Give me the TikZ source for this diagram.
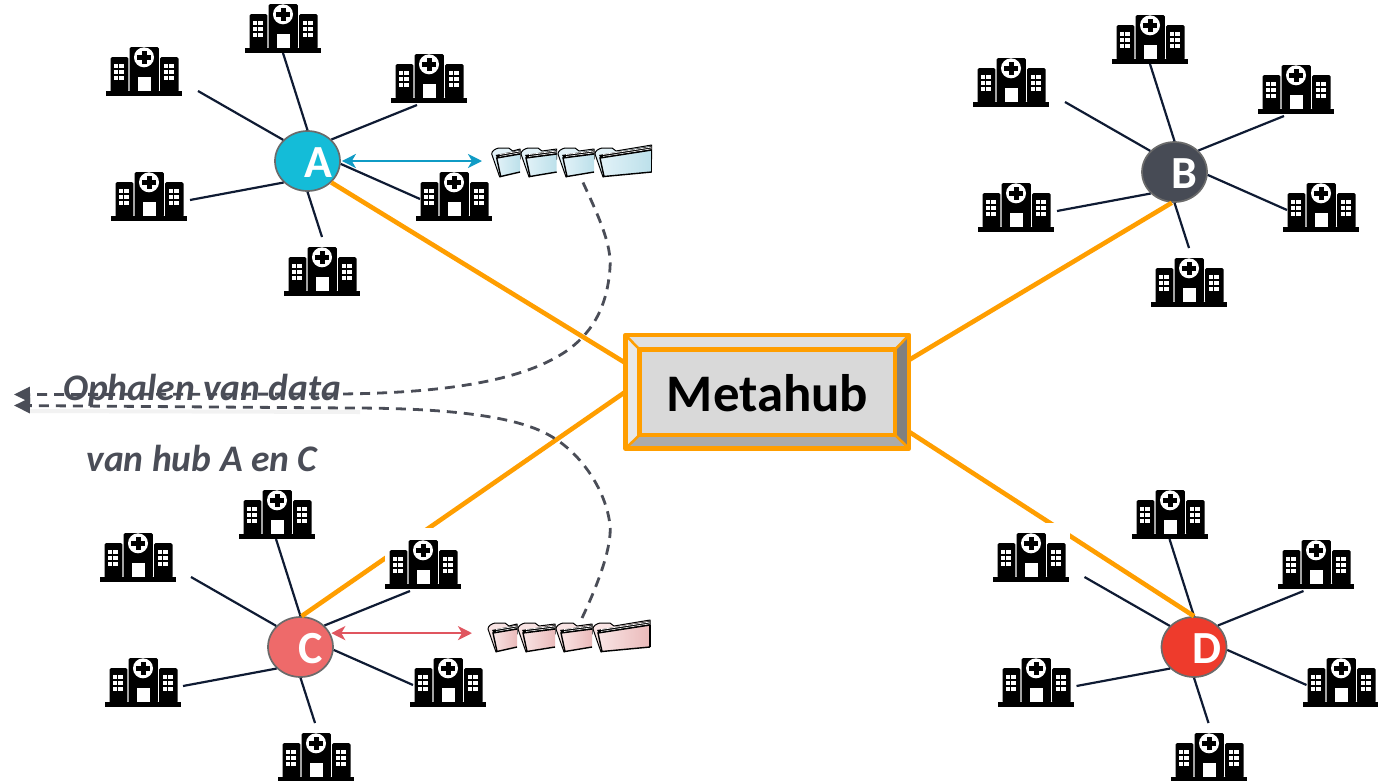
\documentclass[tikz,border=0pt]{standalone}
\usepackage{fontspec}
\setmainfont{Carlito}
\usetikzlibrary{arrows.meta,calc,shapes.geometric}
\definecolor{hubA}{HTML}{14BCD8}
\definecolor{hubB}{HTML}{474B55}
\definecolor{hubC}{HTML}{EE6A6A}
\definecolor{hubD}{HTML}{EE3B2C}
\definecolor{spoke}{HTML}{0F1B33}
\definecolor{meta}{HTML}{FF9E00}
\definecolor{slate}{HTML}{4A4D57}
\definecolor{arrA}{HTML}{0F9BC5}
\definecolor{arrC}{HTML}{E0555F}
\definecolor{blueL}{HTML}{E2F2F8}
\definecolor{blueD}{HTML}{BCE0EA}
\definecolor{pinkL}{HTML}{F9E4E4}
\definecolor{pinkD}{HTML}{EABABA}
\tikzset{
  x=1pt,y=-1pt,
  spokeline/.style={draw=spoke,line width=2.2pt},
  hubnode/.style={ellipse,draw=black!58,line width=1.7pt,minimum width=65pt,minimum height=60pt,inner sep=0pt},
  hubletter/.style={text=white,font=\fontsize{46}{50}\selectfont\bfseries,inner sep=0pt},
  metaline/.style={draw=meta,line width=4.6pt},
  linkA/.style={draw=arrA,line width=2.5pt,{Stealth[length=14pt,width=14pt,inset=4pt]}-{Stealth[length=14pt,width=14pt,inset=4pt]}},
  linkC/.style={draw=arrC,line width=2.5pt,{Stealth[length=14pt,width=14pt,inset=4pt]}-{Stealth[length=14pt,width=14pt,inset=4pt]}},
  fetch/.style={draw=slate,line width=2.8pt,dash pattern=on 10pt off 7pt,-{Triangle[length=16pt,width=15pt]}},
  fetchshadow/.style={draw=black!5,line width=4pt},
  caption/.style={text=slate,font=\fontsize{37.5}{42}\selectfont\bfseries\itshape,inner sep=0pt},
  hospital/.pic={
    \fill[black,rounded corners=1.5pt] (-14.5,0) rectangle (14.9,45);
    \fill[black,rounded corners=1.5pt] (-33.5,10) rectangle (-15.6,45);
    \fill[black,rounded corners=1.5pt] (16,10) rectangle (34.5,45);
    \fill[black] (-38,44) rectangle (38,49);
    \fill[white] (0,10.3) circle (10);
    \fill[black] (-2.5,3.6) rectangle (2.5,17);
    \fill[black] (-6.7,7.8) rectangle (6.7,12.8);
    \fill[white] (-6,30) rectangle (6.5,44);
    \foreach \cx in {-30.5,-24.8,19.7,25.4}
      \foreach \cy in {16.5,22.5,28.5}
        \fill[white] (\cx,\cy) rectangle ++(4.6,4.6);
  },
}
\newcommand\hubgroup[6]{%
  \begin{scope}[shift={(#2,#3)}]
    \node[hubnode,fill=#4] (#1) at (307.5,161) {};
    \node[hubletter] (#1l) at (318+#6,162.5) {#5};
    \coordinate (#1ul) at (198,91);
    \coordinate (#1t) at (283,53);
    \coordinate (#1ur) at (417,105);
    \coordinate (#1lf) at (190,200);
    \coordinate (#1r) at (420,199);
    \coordinate (#1b) at (322,237);
    \draw[spokeline] (#1.139) -- (#1ul);
    \draw[spokeline] (#1.90) -- (#1t);
    \draw[spokeline] (#1.42) -- (#1ur);
    \draw[spokeline] (#1.222) -- (#1lf);
    \draw[spokeline] (#1.355) -- (#1r);
    \draw[spokeline] (#1.270) -- (#1b);
  \end{scope}}
\newcommand\hospitals[2]{%
  \begin{scope}[shift={(#1,#2)}]
    \pic at (283,4) {hospital};
    \pic at (144,47) {hospital};
    \pic at (429,54) {hospital};
    \pic at (149,172) {hospital};
    \pic at (454,172) {hospital};
    \pic at (322,247) {hospital};
  \end{scope}}
% x, y, width, light colour, dark colour, tip rise
\newcommand\folder[6]{%
  \begin{scope}[shift={(#1,#2)}]
    \filldraw[fill=#4,draw=black,line width=1pt,line join=round]
      (0,7) .. controls (0,4) and (3,2) .. (7,1) -- (17,1) -- (21,4) -- (#3,#6) -- (#3,12) -- (8,30) -- cycle;
    \fill[black] (4,8) -- (#3,#6+1) -- (#3,#6+5) -- (6,12) -- cycle;
    \draw[white,line width=.7pt] (8,7.5) -- (#3,#6+2);
    \draw[white,line width=.7pt] (8,9.6) -- (#3,#6+3.8);
    \shade[left color=#4,right color=#5] (5,11) -- (#3,#6+5) -- (#3,25) -- (9,29.5) -- cycle;
    \draw[black,line width=1.4pt] (#3,25) -- (9,29.5) -- (5,11) -- (#3,#6+5);
  \end{scope}}
\begin{document}
\begin{tikzpicture}
\useasboundingbox (0,0) rectangle (1378,780);
\hubgroup{a}{0}{0}{hubA}{A}{0}
\hubgroup{b}{867}{11}{hubB}{B}{-0.5}
\hubgroup{c}{-7}{486}{hubC}{C}{-0.5}
\hubgroup{d}{886.5}{486}{hubD}{D}{2}
% metahub frame
\node[rectangle,minimum width=283.5pt,minimum height=113.5pt,inner sep=0pt,outer sep=0pt] (mo) at (767.25,391.75) {};
\node[rectangle,minimum width=255.5pt,minimum height=85.5pt,inner sep=0pt,outer sep=0pt] (mi) at (767.25,392.25) {};
% orange connectors
\draw[metaline] (a.318) -- ([yshift=28.75pt]mo.west);
\draw[metaline] (b.265) -- ([yshift=31.75pt]mo.east);
\draw[metaline] (c.88) -- (mo.west);
\draw[metaline] (d.90) -- ([yshift=-40pt]mo.east);
% bevel
\fill[black!12] (mo.north west) -- (mo.north east) -- (mi.north east) -- (mi.north west) -- cycle;
\fill[black!9] (mo.north west) -- (mi.north west) -- (mi.south west) -- (mo.south west) -- cycle;
\fill[black!50] (mo.north east) -- (mi.north east) -- (mi.south east) -- (mo.south east) -- cycle;
\fill[black!33] (mo.south west) -- (mi.south west) -- (mi.south east) -- (mo.south east) -- cycle;
\draw[draw=meta,line width=2.5pt] (mo.north west) -- (mi.north west);
\draw[draw=meta,line width=2.5pt] (mo.north east) -- (mi.north east);
\draw[draw=meta,line width=2.5pt] (mo.south west) -- (mi.south west);
\draw[draw=meta,line width=2.5pt] (mo.south east) -- (mi.south east);
\draw[metaline,line join=round] (mo.north west) rectangle (mo.south east);
\draw[metaline,fill=black!15] (mi.north west) rectangle (mi.south east);
\node[font=\fontsize{52.8}{56}\selectfont\bfseries,text=black,inner sep=0pt] (mt) at (767.5,393) {Metahub};
% white masks that cut the orange lines
\fill[white] (385,528) rectangle (461,590);
\fill[white] (994,523) rectangle (1070,585);
\hospitals{0}{0}
\hospitals{867}{11}
\hospitals{-6}{486}
\hospitals{887}{486}
% folders
\node[rectangle,minimum width=160pt,minimum height=32pt,inner sep=0pt,outer sep=0pt] (fa) at (572,161.5) {};
\node[rectangle,minimum width=162pt,minimum height=32pt,inner sep=0pt,outer sep=0pt] (fc) at (569,636) {};
\folder{491.7}{147}{28.3}{blueL}{blueD}{2}
\folder{521}{147}{35.7}{blueL}{blueD}{2}
\folder{558}{147}{36}{blueL}{blueD}{2}
\folder{595}{147}{56.7}{blueL}{blueD}{-2}
\draw[line width=1.4pt] (651.7,150) -- (651.7,172);
\folder{488}{622}{29}{pinkL}{pinkD}{2}
\folder{518}{622}{37}{pinkL}{pinkD}{2}
\folder{556}{622}{36}{pinkL}{pinkD}{2}
\folder{593}{622}{57}{pinkL}{pinkD}{-2}
\draw[line width=1.4pt] (650,625) -- (650,647);
% hub to folder arrows
\draw[linkA,shorten <=1pt,shorten >=10pt] (a.east) -- (a.east -| fa.west);
\draw[linkC,shorten <=1pt,shorten >=16pt] (c.25) -- (c.25 -| fc.west);
% dashed fetch lines
\coordinate (outa) at (14,394.5);
\coordinate (outc) at (14,405.5);
\draw[fetchshadow] (30,411) -- (360,412);
\draw[fetch] ([xshift=11pt,yshift=-5pt]fa.south) .. controls (598,215) and (612,245) .. (610,268)
  .. controls (607,310) and (590,335) .. (565,352)
  .. controls (520,382) and (440,393) .. (340,394) -- (outa);
\draw[fetch] ([xshift=13pt,yshift=2pt]fc.north) .. controls (600,580) and (612,545) .. (610,525)
  .. controls (606,490) and (580,450) .. (545,433)
  .. controls (510,415) and (440,408) .. (350,408) -- (outc);
\node[caption] (t1) at (202,390) {Ophalen van data};
\node[caption] (t2) at (202,458) {van hub A en C};
\end{tikzpicture}
\end{document}
